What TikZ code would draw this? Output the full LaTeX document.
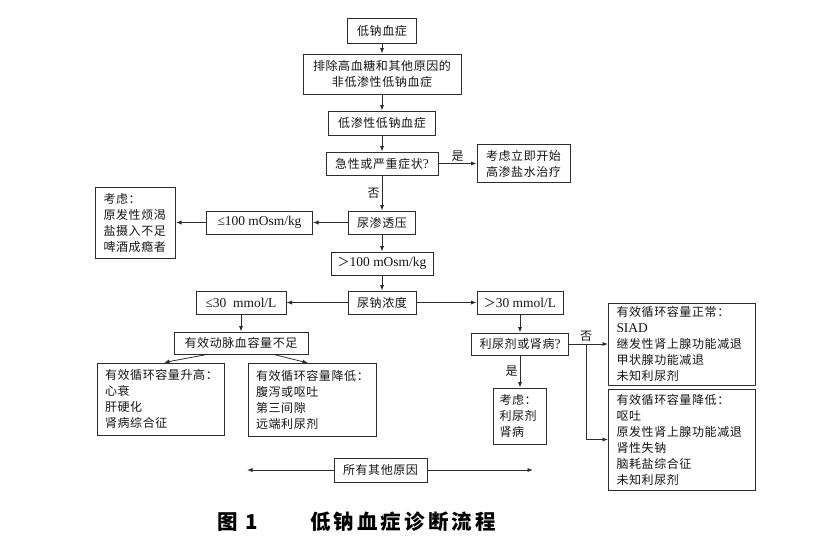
\documentclass[tikz,border=0pt]{standalone}
\usepackage{fontspec}
\setmainfont{Liberation Serif}
\newfontfamily\cjk[LetterSpace=5]{Noto Sans CJK SC}
\newfontfamily\cjkcap[LetterSpace=15]{Noto Sans CJK SC}
\newfontfamily\lat[Scale=1.12]{Liberation Serif}
\usepackage{tikz}
\usetikzlibrary{positioning, arrows.meta, calc}
\definecolor{lineclr}{RGB}{45,45,45}
\definecolor{txtclr}{RGB}{20,20,20}
\tikzset{
  box/.style={
    draw=lineclr, line width=1pt, inner sep=0pt, align=center,
    font=\cjk\fontsize{12}{16}\selectfont, text=txtclr
  },
  listbox/.style={box, inner xsep=8pt, inner ysep=3pt, align=left},
  link/.style={draw=lineclr, line width=0.8pt, -{Latex[length=5.5pt,width=4.2pt]}},
  every edge/.style={link},
  yesno/.style={font=\cjk\fontsize{12}{14}\selectfont, text=txtclr, inner sep=2pt},
  caption/.style={font=\cjkcap\bfseries\fontsize{20.5}{24}\selectfont, text=black, inner sep=0pt},
}
\begin{document}
\begin{tikzpicture}[x=1pt, y=-1pt]
  \useasboundingbox (0,0) rectangle (815,550);
  % main column
  \node[box, minimum width=69pt, minimum height=25pt] (START) at (382,30.5) {低钠血症};
  \node[box, minimum width=158pt, minimum height=40pt, below=10pt of START] (EXCL) {排除高血糖和其他原因的\\非低渗性低钠血症};
  \node[box, minimum width=107pt, minimum height=24pt, below=16pt of EXCL] (HYPO) {低渗性低钠血症};
  \node[box, minimum width=112pt, minimum height=23pt, below=16pt of HYPO] (ACUTE) {急性或严重症状{\lat ?}};
  \node[box, minimum width=93pt, minimum height=38pt, right=38pt of ACUTE] (HTS) {考虑立即开始\\高渗盐水治疗};
  \node[box, minimum width=67pt, minimum height=23pt, below=35pt of ACUTE] (UOSM) {尿渗透压};
  \node[box, minimum width=106pt, minimum height=23pt, left=35pt of UOSM] (LE100) {\lat ≤100 mOsm/kg};
  \node[listbox, text width=64pt, minimum height=71pt, left=30pt of LE100] (PRIM) {考虑：\\原发性烦渴\\盐摄入不足\\啤酒成瘾者};
  \node[box, minimum width=102pt, minimum height=23pt, below=17pt of UOSM] (GT100) {＞{\lat 100 mOsm/kg}};
  \node[box, minimum width=68pt, minimum height=23pt, below=15pt of GT100] (UNA) {尿钠浓度};
  % low urine sodium
  \node[box, minimum width=90pt, minimum height=23pt, left=61pt of UNA] (LE30) {\lat ≤30\enspace mmol/L};
  \node[box, minimum width=134pt, minimum height=22pt, below=17pt of LE30] (EAVD) {有效动脉血容量不足};
  \node[listbox, text width=111pt, minimum height=72pt] (ECVUP) at (160.5,399) {有效循环容量升高：\\心衰\\肝硬化\\肾病综合征};
  \node[listbox, text width=112pt, minimum height=73pt] (ECVDN) at (312,400) {有效循环容量降低：\\腹泻或呕吐\\第三间隙\\远端利尿剂};
  % high urine sodium
  \node[box, minimum width=86pt, minimum height=23pt, right=60pt of UNA] (GT30) {＞{\lat 30 mmol/L}};
  \node[box, minimum width=97pt, minimum height=22pt, below=18pt of GT30] (DIUR) {利尿剂或肾病{\lat ?}};
  \node[listbox, inner xsep=6pt, text width=41pt, minimum height=56pt, below=32pt of DIUR] (DRUG) {考虑：\\利尿剂\\肾病};
  \node[listbox, text width=131pt, minimum height=82pt, right=39pt of DIUR] (ECVN) {有效循环容量正常：\\{\lat SIAD}\\继发性肾上腺功能减退\\甲状腺功能减退\\未知利尿剂};
  \node[listbox, text width=131pt, minimum height=101pt, below=3pt of ECVN] (ECVL) {有效循环容量降低：\\呕吐\\原发性肾上腺功能减退\\肾性失钠\\脑耗盐综合征\\未知利尿剂};
  % all other causes
  \node[box, minimum width=93pt, minimum height=24pt] (OTHER) at (380.5,470) {所有其他原因};
  \coordinate (OL) at (247,470);
  \coordinate (OR) at (533,470);

  \path (START) edge (EXCL)
        (EXCL) edge (HYPO)
        (HYPO) edge (ACUTE)
        (ACUTE) edge node[yesno, above]{是} (HTS)
        (ACUTE) edge node[yesno, left]{否} (UOSM)
        (UOSM) edge (LE100)
        (LE100) edge (PRIM)
        (UOSM) edge (GT100)
        (GT100) edge (UNA)
        (UNA) edge (LE30)
        (UNA) edge (GT30)
        (LE30) edge (EAVD)
        ([xshift=-34pt]EAVD.south) edge ([xshift=3.5pt]ECVUP.north)
        ([xshift=33pt]EAVD.south) edge ([xshift=-4pt]ECVDN.north)
        (GT30) edge (DIUR)
        (DIUR) edge node[yesno, left]{是} (DRUG)
        (DIUR.east) edge (DIUR.east -| ECVN.west)
        (OTHER) edge (OL)
        (OTHER) edge (OR);
  \coordinate (SPLIT) at ([xshift=17pt]DIUR.east);
  \node[yesno, above] (NO2) at (SPLIT) {否};
  \draw[link] (SPLIT) |- (ECVL.west);

  % caption
  \node[caption] (FIG) at (238,522) {图 1};
  \node[caption] (TITLE) at (403,522) {低钠血症诊断流程};
\end{tikzpicture}
\end{document}
